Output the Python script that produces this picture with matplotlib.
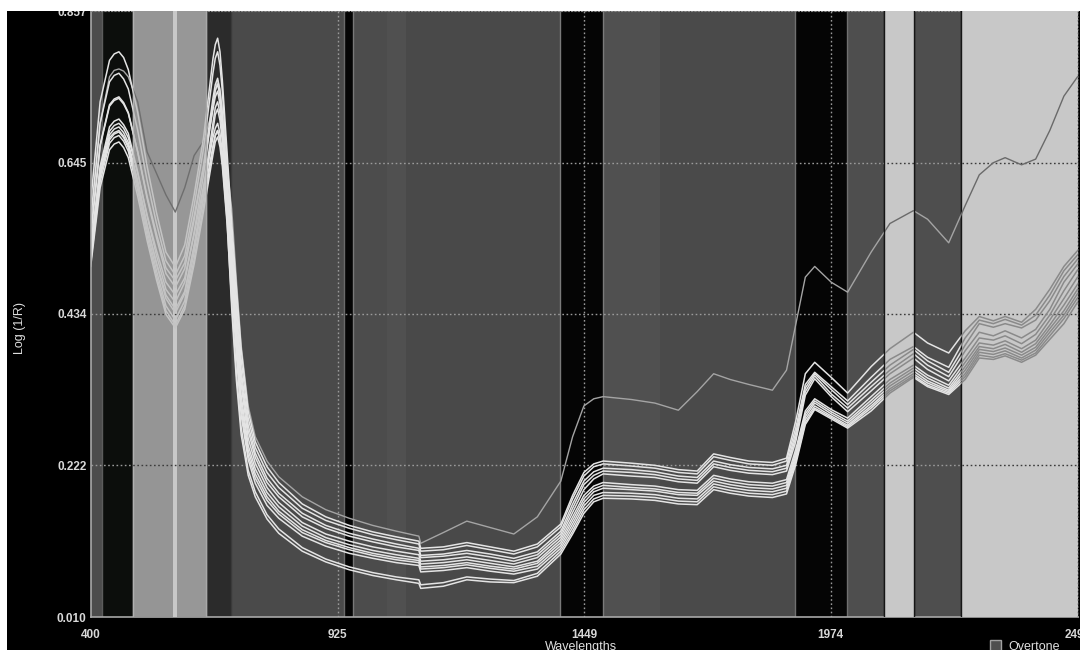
import matplotlib
matplotlib.use("Agg")
import matplotlib.pyplot as plt
from matplotlib.patches import Rectangle

# ---------------- data ----------------
wavelengths = [400, 420, 440, 450, 460, 470, 480, 500, 520, 540, 560, 580, 600, 620, 640, 660, 665, 670, 675, 680, 690,
               700, 710, 720, 735, 750, 775, 800, 850, 900, 950, 1000, 1050, 1098,
               1102, 1150, 1200, 1250, 1300, 1350, 1400, 1425, 1449, 1470, 1490,
               1550, 1600, 1650, 1690, 1725, 1760, 1800, 1850, 1880,
               1900, 1920, 1940, 1975, 2010, 2060, 2100, 2150, 2180, 2225,
               2260, 2290, 2320, 2345, 2380, 2410, 2440, 2470, 2499]

outlier = [.560, .700, .765, .774, .776, .773, .765, .730, .660, .630, .600, .576, .610, .655, .675, .720, .745, .760, .748, .720, .640,
           .580, .480, .390, .305, .262, .228, .206, .178, .160, .148, .138, .130, .123,
           .113, .128, .144, .135, .126, .150, .200, .262, .305, .315, .318,
           .314, .309, .299, .325, .350, .342, .335, .327, .355,
           .420, .485, .500, .478, .464, .520, .560, .578, .566, .533,
           .585, .628, .645, .652, .642, .650, .690, .738, .765]

s01 = [.590, .730, .788, .797, .800, .792, .775, .715, .640, .575, .520, .499, .530, .600, .680, .790, .810, .819, .800, .760, .660,
       .560, .470, .385, .298, .255, .220, .198, .168, .150, .138, .129, .122, .116,
       .106, .108, .114, .108, .102, .112, .140, .180, .212, .224, .228,
       .225, .222, .216, .214, .238, .233, .228, .226, .232,
       .285, .350, .366, .345, .323, .360, .385, .408, .393, .379,
       .410, .430, .424, .430, .422, .440, .468, .500, .522]
s02 = [.565, .700, .758, .767, .770, .762, .748, .690, .620, .560, .508, .488, .515, .585, .665, .770, .791, .800, .781, .745, .645,
       .545, .455, .370, .288, .247, .212, .191, .162, .145, .134, .125, .118, .112,
       .102, .104, .110, .104, .098, .108, .136, .175, .207, .220, .224,
       .221, .218, .212, .210, .234, .229, .224, .222, .228,
       .275, .335, .352, .332, .312, .345, .370, .388, .373, .359,
       .400, .425, .420, .426, .418, .432, .460, .494, .516]
s03 = [.540, .670, .726, .734, .737, .729, .715, .660, .595, .540, .490, .471, .497, .565, .640, .735, .754, .763, .745, .715, .625,
       .530, .440, .355, .278, .239, .204, .183, .155, .138, .127, .119, .112, .106,
       .096, .098, .103, .098, .092, .101, .130, .168, .200, .213, .218,
       .216, .213, .207, .205, .228, .223, .219, .217, .222,
       .268, .330, .350, .328, .307, .338, .362, .384, .368, .352,
       .390, .420, .415, .420, .414, .425, .452, .486, .510]
s04 = [.520, .640, .695, .703, .706, .698, .686, .632, .570, .515, .468, .450, .478, .548, .628, .725, .746, .755, .737, .705, .615,
       .520, .430, .345, .270, .233, .198, .178, .150, .134, .123, .115, .108, .103,
       .093, .095, .099, .094, .088, .097, .126, .162, .195, .208, .214,
       .212, .209, .203, .201, .224, .219, .215, .213, .218,
       .262, .325, .347, .322, .302, .332, .355, .378, .362, .346,
       .382, .408, .403, .410, .400, .412, .440, .478, .503]
s05 = [.545, .668, .724, .732, .735, .727, .714, .660, .598, .545, .498, .480, .505, .570, .640, .720, .737, .745, .727, .695, .605,
       .510, .415, .335, .260, .225, .191, .170, .142, .126, .116, .108, .102, .097,
       .088, .090, .094, .089, .084, .093, .122, .156, .188, .203, .210,
       .207, .205, .199, .197, .220, .215, .211, .209, .214,
       .256, .320, .343, .318, .297, .326, .350, .372, .356, .340,
       .372, .400, .397, .403, .392, .405, .432, .466, .495]
s06 = [.515, .630, .684, .692, .695, .687, .673, .620, .558, .503, .455, .435, .462, .530, .608, .700, .722, .730, .714, .685, .600,
       .500, .405, .320, .250, .217, .184, .164, .137, .121, .111, .103, .097, .092,
       .084, .086, .090, .085, .080, .088, .118, .150, .180, .193, .198,
       .195, .193, .188, .187, .208, .203, .199, .197, .202,
       .245, .298, .315, .300, .288, .318, .342, .362, .348, .334,
       .366, .393, .390, .396, .385, .397, .425, .455, .485]
s07 = [.510, .625, .677, .685, .688, .680, .666, .612, .550, .494, .445, .425, .452, .520, .598, .690, .712, .720, .704, .675, .590,
       .490, .395, .310, .243, .210, .178, .158, .132, .117, .107, .099, .093, .089,
       .080, .082, .086, .081, .077, .085, .114, .145, .175, .189, .194,
       .191, .189, .184, .183, .204, .199, .195, .193, .198,
       .240, .294, .312, .297, .284, .313, .337, .358, .344, .330,
       .360, .388, .385, .391, .380, .392, .418, .446, .475]
s08 = [.525, .636, .689, .697, .700, .693, .680, .630, .572, .522, .478, .460, .484, .545, .612, .680, .693, .700, .686, .660, .580,
       .480, .385, .300, .236, .204, .173, .154, .128, .114, .104, .096, .090, .086,
       .077, .079, .083, .078, .074, .081, .110, .140, .170, .185, .190,
       .188, .186, .181, .180, .200, .195, .191, .189, .194,
       .236, .290, .309, .294, .281, .309, .333, .354, .340, .327,
       .355, .384, .381, .386, .376, .387, .413, .438, .468]
s09 = [.505, .618, .672, .680, .683, .675, .661, .606, .543, .487, .438, .418, .445, .510, .585, .665, .683, .690, .676, .650, .572,
       .470, .375, .292, .230, .197, .166, .148, .123, .109, .099, .092, .086, .082,
       .073, .075, .079, .074, .070, .077, .106, .135, .165, .180, .184,
       .183, .181, .176, .175, .196, .191, .187, .185, .190,
       .232, .286, .305, .291, .278, .305, .329, .350, .337, .325,
       .350, .380, .377, .382, .372, .383, .408, .432, .462]
s10 = [.500, .610, .663, .671, .674, .666, .652, .598, .536, .481, .433, .414, .440, .503, .577, .656, .674, .681, .667, .640, .560,
       .450, .350, .275, .215, .185, .153, .133, .107, .091, .080, .072, .066, .062,
       .055, .058, .066, .063, .061, .071, .102, .130, .160, .175, .180,
       .179, .177, .172, .171, .192, .187, .183, .181, .186,
       .228, .282, .302, .289, .276, .302, .326, .347, .334, .323,
       .346, .376, .373, .378, .369, .379, .403, .427, .456]
s11 = [.530, .628, .680, .687, .690, .682, .669, .617, .557, .505, .460, .440, .465, .527, .595, .668, .683, .690, .676, .648, .565,
       .440, .340, .265, .208, .178, .147, .127, .102, .087, .076, .068, .062, .057,
       .050, .053, .062, .059, .058, .067, .098, .126, .155, .171, .176,
       .175, .173, .168, .167, .188, .183, .179, .177, .182,
       .224, .279, .300, .287, .274, .298, .323, .345, .332, .321,
       .342, .372, .370, .375, .366, .376, .398, .420, .450]

white_spectra = [s01, s02, s03, s04, s05, s06, s07, s08, s09, s10, s11]

x_ticks = [400, 925, 1449, 1974, 2499]
y_ticks = [0.010, 0.222, 0.434, 0.645, 0.857]
y_tick_labels = ["0.010", "0.222", "0.434", "0.645", "0.857"]

band_start = [400, 423.4, 489.3, 574.4, 583.0, 645.3, 697.8, 938.8, 958.6, 1029.6, 1070.7,
              1398.3, 1489.1, 1611.0, 1898.2, 2009.5, 2088.2, 2151.4, 2250.6]
band_end = [423.4, 489.3, 574.4, 583.0, 645.3, 697.8, 938.8, 958.6, 1029.6, 1070.7, 1398.3,
            1489.1, 1611.0, 1898.2, 2009.5, 2088.2, 2151.4, 2250.6, 2500]
band_colors = ["#4c4c4c", "#0c0e0c", "#959595", "#c8c8c8", "#979797", "#2b2b2b", "#4a4a4a",
               "#050505", "#4c4c4c", "#505050", "#494949", "#050505", "#505050", "#4a4a4a",
               "#050505", "#4e4e4e", "#c8c8c8", "#4e4e4e", "#c8c8c8"]

edge_pos = [423.4, 489.3, 645.3, 697.8, 938.8, 958.6, 1398.3, 1489.1, 1898.2, 2009.5,
            2088.2, 2151.4, 2250.6]
edge_colors = ["#5c5c5c", "#b0b0b0", "#a8a8a8", "#3a3a3a", "#6a6a6a", "#787878", "#7a7a7a",
               "#7a7a7a", "#707070", "#707070", "#161616", "#161616", "#161616"]

light_regions = [(489.3, 645.3, "#c4c4c4", "#6e6e6e", "#3c3c3c"),
                 (2088.2, 2151.4, "#8a8a8a", "#6a6a6a", "#3c3c3c"),
                 (2250.6, 2500, "#8a8a8a", "#6a6a6a", "#3c3c3c")]

XMIN, XMAX = 400, 2500
YMIN, YMAX = 0.010, 0.857

# ---------------- figure ----------------
fig = plt.figure(figsize=(10.8, 6.5), dpi=100, facecolor="black")
ax = fig.add_axes([90.7 / 1080, 33 / 650, (1078 - 90.7) / 1080, 606 / 650])
ax.set_facecolor("#4a4a4a")
ax.set_xlim(XMIN, XMAX)
ax.set_ylim(YMIN, YMAX)

for x0, x1, c in zip(band_start, band_end, band_colors):
    ax.axvspan(x0, x1, color=c, lw=0, zorder=0)
for xe, ce in zip(edge_pos, edge_colors):
    ax.axvline(xe, color=ce, lw=1.0, zorder=0.5)

dots = (0, (1.2, 1.8))


def draw_content(white_c, out_c, grid_c, z, clip=None):
    arts = []
    for yv in y_ticks[1:4]:
        arts.append(ax.axhline(yv, color=grid_c, lw=1.0, ls=dots, zorder=z))
    for xv in x_ticks[1:]:
        arts.append(ax.axvline(xv, color=grid_c, lw=1.0, ls=dots, zorder=z))
    for s in white_spectra:
        ln, = ax.plot(wavelengths, s, color=white_c, lw=1.1, zorder=z + 0.2)
        arts.append(ln)
    ln, = ax.plot(wavelengths, outlier, color=out_c, lw=1.0, zorder=z + 0.1)
    arts.append(ln)
    if clip is not None:
        for a in arts:
            a.set_clip_path(clip)


draw_content("#e4e4e4", "#a4a4a4", "#9a9a9a", 2)

for x0, x1, wc, oc, gc in light_regions:
    for b0, b1, c in zip(band_start, band_end, band_colors):
        if b0 >= x0 - 0.01 and b1 <= x1 + 0.01:
            ax.axvspan(b0, b1, color=c, lw=0, zorder=3)
    for xe, ce in zip(edge_pos, edge_colors):
        if x0 - 0.01 <= xe <= x1 + 0.01:
            ax.axvline(xe, color=ce, lw=1.0, zorder=3.1)
    clip = Rectangle((x0 + 0.8, YMIN), x1 - x0 - 1.6, YMAX - YMIN, transform=ax.transData)
    draw_content(wc, oc, gc, 4, clip=clip)

# spines
for side in ["left", "bottom"]:
    ax.spines[side].set_color("#a8a8a8")
    ax.spines[side].set_linewidth(1.2)
ax.spines["top"].set_color("#8a8a8a")
ax.spines["top"].set_linestyle(dots)
ax.spines["right"].set_color("#3c3c3c")
ax.spines["right"].set_linestyle(dots)

ax.set_xticks(x_ticks)
ax.set_xticklabels([str(v) for v in x_ticks])
ax.set_yticks(y_ticks)
ax.set_yticklabels(y_tick_labels)
ax.tick_params(axis="both", length=0, colors="#d8d8d8", labelsize=8.5)
ax.tick_params(axis="x", pad=9)
ax.tick_params(axis="y", pad=3)
for lab in ax.get_xticklabels() + ax.get_yticklabels():
    lab.set_fontfamily("Liberation Sans")
    lab.set_fontweight("bold")
    lab.set_clip_on(False)

fig.text(20 / 1080, 1 - 328 / 650, "Log (1/R)", rotation=90, color="#e0e0e0",
         fontsize=9, family="Liberation Sans", ha="center", va="center")
fig.text(581 / 1080, 1 - 641 / 650, "Wavelengths", color="#e0e0e0",
         fontsize=9, family="Liberation Sans", ha="center", va="top")

# legend entry
fig.patches.append(Rectangle((990 / 1080, 1 - 651 / 650), 11 / 1080, 11 / 650,
                             transform=fig.transFigure, facecolor="#4e4e4e",
                             edgecolor="#a0a0a0", lw=1.0, zorder=5))
fig.text(1008 / 1080, 1 - 641 / 650, "Overtone", color="#e0e0e0",
         fontsize=9, family="Liberation Sans", ha="left", va="top")

# white margins of the cropped screenshot
fig.patches.append(Rectangle((0, 1 - 11 / 650), 1, 11 / 650, transform=fig.transFigure,
                             facecolor="white", edgecolor="none", zorder=10))
fig.patches.append(Rectangle((0, 0), 7 / 1080, 1, transform=fig.transFigure,
                             facecolor="white", edgecolor="none", zorder=10))

fig.savefig("out.png", dpi=100, facecolor="black")
